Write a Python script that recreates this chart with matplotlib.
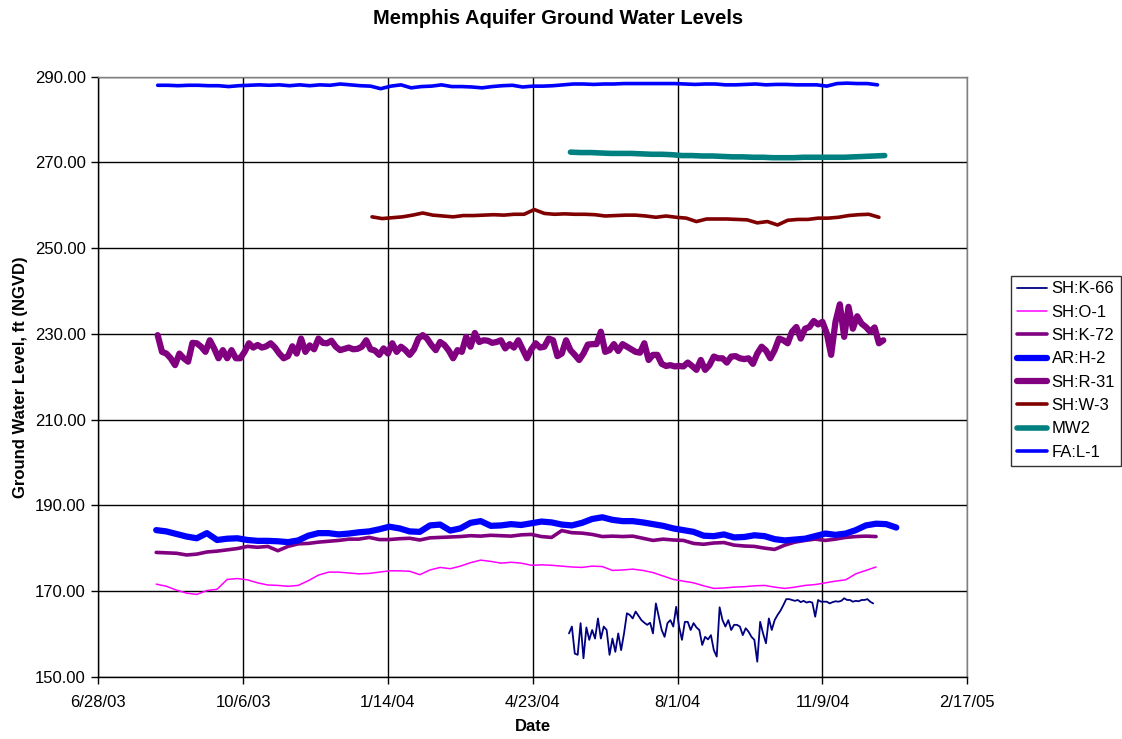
import numpy as np
import pandas as pd
import matplotlib
matplotlib.use("Agg")
import matplotlib.pyplot as plt
import matplotlib.dates as mdates
from matplotlib.ticker import FuncFormatter

plt.rcParams['font.family'] = ['Liberation Sans', 'DejaVu Sans']

# ----------------------------------
# DATA (ft NGVD)
# ----------------------------------

# SH:K-66, every 2 days from 5/18/04
sh_k66_start = '2004-05-18'
sh_k66 = [160.1, 161.7, 155.4, 155.1, 162.5, 154.3, 161.5, 158.6, 160.9, 158.9,
          163.6, 158.9, 161.7, 160.9, 155.1, 158.9, 155.8, 160.1, 156.2, 160.1,
          164.8, 164.4, 163.6, 165.2, 164.2, 163.2, 162.6, 162.1, 162.6, 160.1,
          167.1, 164.0, 160.9, 159.3, 162.5, 163.2, 161.7, 166.3, 161.7, 158.6,
          162.8, 162.8, 160.9, 162.5, 161.5, 160.9, 157.4, 159.3, 158.7, 159.7,
          156.2, 154.7, 166.2, 163.2, 161.7, 163.2, 160.9, 162.1, 162.1, 161.7,
          159.7, 161.3, 160.5, 159.3, 158.6, 153.5, 162.8, 160.1, 157.8, 163.6,
          160.9, 163.2, 164.4, 165.4, 166.7, 168.1, 168.1, 167.9, 167.7, 167.9,
          167.4, 167.7, 167.3, 167.5, 167.3, 164.0, 167.9, 167.5, 167.5, 167.5,
          167.1, 167.4, 167.6, 167.5, 167.7, 168.3, 167.9, 167.9, 167.5, 167.7,
          167.6, 167.9, 167.9, 168.1, 167.5, 167.1]

# SH:O-1, weekly from 8/7/03
sh_o1_start = '2003-08-07'
sh_o1 = [171.6, 171.1, 170.2, 169.5, 169.2, 170.1, 170.4, 172.7, 172.9, 172.6,
         171.9, 171.4, 171.3, 171.1, 171.3, 172.4, 173.7, 174.4, 174.4, 174.2,
         174.0, 174.1, 174.4, 174.7, 174.7, 174.6, 173.8, 174.9, 175.5, 175.2,
         175.8, 176.6, 177.2, 176.9, 176.5, 176.7, 176.5, 176.0, 176.1,
         176.0, 175.8, 175.6, 175.5, 175.8, 175.7, 174.8, 174.9, 175.1, 174.8,
         174.3, 173.5, 172.7, 172.3, 171.9, 171.2, 170.6, 170.7, 170.9, 171.0,
         171.2, 171.3, 170.9, 170.6, 170.9, 171.3, 171.5, 171.9, 172.3, 172.6,
         174.0, 174.8, 175.6]

# SH:K-72, weekly from 8/7/03
sh_k72_start = '2003-08-07'
sh_k72 = [179.0, 178.9, 178.8, 178.4, 178.6, 179.1, 179.3, 179.6, 179.9, 180.4,
          180.2, 180.4, 179.4, 180.4, 181.0, 181.1, 181.4, 181.6, 181.8, 182.1,
          182.1, 182.5, 182.0, 182.0, 182.2, 182.3, 181.9, 182.4, 182.5, 182.6,
          182.7, 182.9, 182.8, 183.0, 182.9, 182.8, 183.1, 183.2, 182.7,
          182.5, 184.1, 183.6, 183.5, 183.2, 182.7, 182.8, 182.7, 182.8, 182.3,
          181.8, 182.1, 181.9, 181.8, 181.1, 180.9, 181.2, 181.3, 180.7, 180.5,
          180.4, 180.0, 179.7, 180.7, 181.4, 181.8, 182.1, 181.8, 182.1, 182.5,
          182.7, 182.8, 182.7]

# AR:H-2, weekly from 8/7/03
ar_h2_start = '2003-08-07'
ar_h2 = [184.2, 183.9, 183.3, 182.7, 182.3, 183.5, 181.9, 182.2, 182.3, 181.9,
         181.7, 181.7, 181.6, 181.4, 181.8, 182.9, 183.5, 183.5, 183.2, 183.4,
         183.7, 183.9, 184.4, 185.0, 184.6, 183.9, 183.8, 185.3, 185.5, 184.1,
         184.6, 185.9, 186.3, 185.2, 185.3, 185.6, 185.4, 185.8, 186.2,
         186.0, 185.5, 185.3, 185.9, 186.8, 187.2, 186.6, 186.3, 186.3, 186.0,
         185.6, 185.2, 184.6, 184.2, 183.8, 182.9, 182.8, 183.2, 182.5, 182.6,
         183.0, 182.8, 182.1, 181.8, 182.0, 182.2, 182.8, 183.4, 183.1, 183.4,
         184.2, 185.3, 185.7, 185.6, 184.8]

# SH:R-31, every 3 days from 8/8/03
sh_r31_start = '2003-08-08'
sh_r31 = [229.7, 225.8, 225.4, 224.3, 222.7, 225.4, 224.3, 223.5, 227.9, 227.8,
          227.0, 225.8, 228.5, 226.6, 224.3, 226.2, 224.3, 226.2, 224.3, 224.3,
          225.8, 227.8, 226.8, 227.4, 226.8, 227.1, 227.8, 226.8, 225.4, 224.3,
          224.8, 227.1, 225.4, 228.9, 225.8, 227.3, 226.4, 228.9, 227.9, 227.8,
          228.4, 227.0, 226.2, 226.5, 226.8, 226.4, 226.5, 227.0, 228.5, 226.4,
          226.1, 225.1, 226.6, 225.4, 227.8, 225.8, 227.0, 226.2, 225.1, 226.4,
          228.9, 229.7, 228.9, 227.4, 226.2, 228.1, 227.4, 226.1, 224.3, 226.2,
          225.8, 229.3, 227.0, 230.2, 228.1, 228.5, 228.4, 227.9, 228.1, 228.5,
          226.6, 227.6, 226.8, 228.5, 226.4, 224.3, 226.4, 227.8, 226.8, 227.0,
          228.9,
          228.5, 224.8, 225.4, 228.5, 226.2, 225.1, 223.9, 225.4, 227.5, 227.6,
          227.6, 230.5, 225.8, 226.2, 227.6, 226.0, 227.6, 227.0, 226.4, 225.8,
          225.6, 227.8, 223.9, 225.1, 225.1, 223.0, 222.5, 222.7, 222.4, 222.5,
          222.4, 223.3, 222.5, 221.6, 223.9, 221.6, 222.7, 224.7, 224.3, 224.3,
          223.3, 224.7, 224.8, 224.3, 224.1, 224.3, 223.0, 225.4, 227.0, 226.1,
          224.3, 226.2, 228.9, 228.5, 227.8, 230.5, 231.6, 228.9, 231.2, 231.6,
          233.0, 232.2, 232.8, 230.1, 225.1, 232.8, 236.9, 229.3, 236.3, 231.2,
          234.1, 232.4, 231.6, 230.5, 231.5, 227.8, 228.5]

# SH:W-3, weekly from 1/3/04
sh_w3_start = '2004-01-03'
sh_w3 = [257.3, 256.9, 257.1, 257.3, 257.7, 258.2, 257.7, 257.5, 257.3, 257.6,
         257.6, 257.7, 257.8, 257.7, 257.9, 257.9, 259.0, 258.1, 257.9, 258.0,
         257.9, 257.9, 257.8, 257.5, 257.6, 257.7, 257.7, 257.5, 257.2, 257.5,
         257.2, 257.0, 256.2, 256.8, 256.8, 256.8, 256.7, 256.6, 255.9, 256.2,
         255.4, 256.5, 256.7, 256.7, 257.0, 257.0, 257.2, 257.6, 257.8, 257.9,
         257.2]

# MW2, weekly from 5/19/04
mw2_start = '2004-05-19'
mw2 = [272.4, 272.3, 272.3, 272.2, 272.1, 272.1, 272.1, 272.0, 271.9, 271.9,
       271.8, 271.6, 271.6, 271.5, 271.5, 271.4, 271.3, 271.3, 271.2, 271.2,
       271.1, 271.1, 271.1, 271.2, 271.2, 271.2, 271.2, 271.2, 271.3, 271.4,
       271.5, 271.6]

# FA:L-1, weekly from 8/8/03
fa_l1_start = '2003-08-08'
fa_l1 = [288.0, 288.0, 287.9, 288.0, 288.0, 287.9, 287.9, 287.7, 287.9, 288.0,
         288.1, 288.0, 288.1, 287.9, 288.1, 287.9, 288.1, 288.0, 288.3, 288.1,
         287.9, 287.8, 287.2, 287.8, 288.1, 287.4, 287.7, 287.8, 288.1, 287.7,
         287.7, 287.6, 287.4, 287.7, 287.9, 288.0, 287.6, 287.8, 287.8, 287.9,
         288.1, 288.3, 288.3, 288.2, 288.3, 288.3, 288.4, 288.4, 288.4, 288.4,
         288.4, 288.4, 288.3, 288.2, 288.3, 288.3, 288.1, 288.1, 288.2, 288.3,
         288.1, 288.2, 288.2, 288.1, 288.1, 288.1, 287.8, 288.4, 288.5, 288.4,
         288.4, 288.1]

x_tick_dates = ['2003-06-28', '2003-10-06', '2004-01-14', '2004-04-23',
                '2004-08-01', '2004-11-09', '2005-02-17']
y_ticks = [150, 170, 190, 210, 230, 250, 270, 290]

# name, start, step (days), values, colour, width
series = [
    ('SH:K-66', sh_k66_start, 2, sh_k66, '#000080', 1.3),
    ('SH:O-1', sh_o1_start, 7, sh_o1, '#FF00FF', 1.1),
    ('SH:K-72', sh_k72_start, 7, sh_k72, '#800080', 2.6),
    ('AR:H-2', ar_h2_start, 7, ar_h2, '#0000FF', 4.5),
    ('SH:R-31', sh_r31_start, 3, sh_r31, '#800080', 4.5),
    ('SH:W-3', sh_w3_start, 7, sh_w3, '#800000', 2.6),
    ('MW2', mw2_start, 7, mw2, '#008080', 4.0),
    ('FA:L-1', fa_l1_start, 7, fa_l1, '#0000FF', 2.6),
]

# ----------------------------------
# PLOT
# ----------------------------------

fig = plt.figure(figsize=(11.22, 7.39), dpi=100)
ax = fig.add_axes([0.0876, 0.0843, 0.7745, 0.8119])

for name, start, step, vals, col, lw in series:
    dates = pd.date_range(start, periods=len(vals), freq=f'{step}D')
    ax.plot(dates, vals, color=col, lw=lw, label=name,
            solid_capstyle='round', solid_joinstyle='round')

ticks = pd.to_datetime(x_tick_dates)
ax.set_xlim(ticks[0], ticks[-1])
ax.set_xticks(ticks)


def date_label(v, pos):
    d = mdates.num2date(v)
    return f"{d.month}/{d.day}/{d.strftime('%y')}"


ax.xaxis.set_major_formatter(FuncFormatter(date_label))

ax.set_ylim(150, 290)
ax.set_yticks(y_ticks)
ax.yaxis.set_major_formatter(FuncFormatter(lambda v, p: f"{v:.2f}"))

ax.grid(True, color='black', lw=1)
ax.set_axisbelow(True)
for s in ax.spines.values():
    s.set_color('#808080')
    s.set_linewidth(1)
ax.spines['left'].set_color('black')
ax.spines['bottom'].set_color('black')
ax.tick_params(direction='out', length=5, width=1, labelsize=12, colors='black', pad=4)
ax.tick_params(axis='x', pad=8)

ax.set_xlabel('Date', fontsize=12, fontweight='bold', labelpad=7)
ax.set_ylabel('Ground Water Level, ft (NGVD)', fontsize=12, fontweight='bold', labelpad=5)
fig.text(0.497, 0.975, 'Memphis Aquifer Ground Water Levels', ha='center', va='center',
         fontsize=14.5, fontweight='bold')

leg = fig.legend(loc='upper left', bbox_to_anchor=(0.901, 0.627), fontsize=12,
                 frameon=True, fancybox=False, edgecolor='black', borderpad=0.35,
                 handlelength=1.8, handletextpad=0.3, labelspacing=0.5, borderaxespad=0)
leg.get_frame().set_linewidth(1)

fig.savefig('out.png', dpi=100)
